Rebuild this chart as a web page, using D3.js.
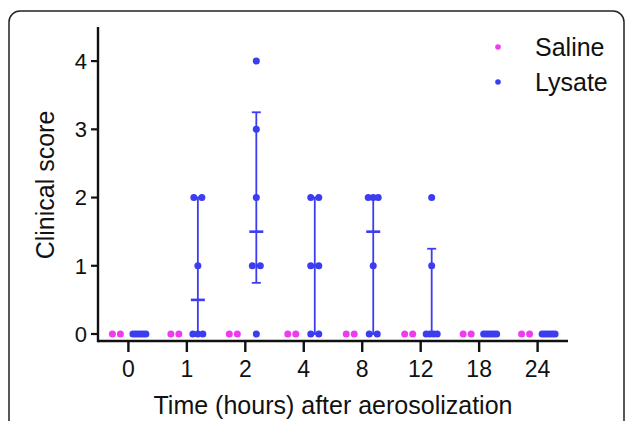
<!DOCTYPE html>
<html>
<head>
<meta charset="utf-8">
<script src="https://cdn.jsdelivr.net/npm/d3@7"></script>
<style>
  body { margin: 0; background: #fff; }
  svg { display: block; font-family: "Liberation Sans", Arial, sans-serif; }
</style>
</head>
<body>
<div class="vis-scatter"></div>
<script>
// time points (hours after aerosolization)
const times = ["0", "1", "2", "4", "8", "12", "18", "24"];
// clinical score per animal at each time point
const saline = [[0, 0], [0, 0], [0, 0], [0, 0], [0, 0], [0, 0], [0, 0], [0, 0]];
const lysate = [
  [0, 0, 0, 0, 0, 0],
  [0, 0, 0, 1, 2, 2],
  [0, 1, 1, 2, 3, 4],
  [0, 0, 1, 1, 2, 2],
  [0, 0, 1, 2, 2, 2],
  [0, 0, 0, 0, 1, 2],
  [0, 0, 0, 0, 0, 0],
  [0, 0, 0, 0, 0, 0]
];
const yTicks = [0, 1, 2, 3, 4];
const groups = ["Saline", "Lysate"];

const pink = "#f03af0", blue = "#3c3cf0";

const W = 627, H = 421;
const svg = d3.select(".vis-scatter").append("svg").attr("width", W).attr("height", H);

// outer frame
svg.append("rect")
  .attr("x", 9).attr("y", 11)
  .attr("width", 615).attr("height", 440)
  .attr("rx", 11)
  .attr("fill", "none").attr("stroke", "#222").attr("stroke-width", 1.5);

let x = d3.scalePoint().domain(times).range([98, 568]).padding(0.52);
let y = d3.scaleLinear().domain([0, 4.5]).range([334, 27]);
const axisY0 = 341;

// quartiles, GraphPad style
function quant(arr, p) {
  const s = arr.slice().sort(d3.ascending);
  const pos = p * (s.length + 1) - 1;
  const lo = Math.max(0, Math.min(s.length - 1, Math.floor(pos)));
  const hi = Math.min(s.length - 1, lo + 1);
  return s[lo] + (pos - lo) * (s[hi] - s[lo]);
}

// spread dots that share a value
function spread(vals) {
  const out = [];
  d3.group(vals.map((v, i) => ({ v, i })), d => d.v).forEach(list => {
    const k = list.length;
    const w = k <= 1 ? 0 : Math.min(8 * (k - 1), 7 + k);
    list.forEach((d, j) => out.push({ v: d.v, dx: k <= 1 ? 0 : -w / 2 + j * w / (k - 1) }));
  });
  return out;
}

const offS = -12, offL = 11;

// y axis
const gy = svg.append("g").attr("transform", "translate(98,0)");
gy.append("line").attr("y1", 27).attr("y2", axisY0 + 1.2).attr("stroke", "#111").attr("stroke-width", 2.4);
gy.selectAll(".t").data(yTicks).enter().append("line")
  .attr("x1", -7).attr("x2", 0)
  .attr("y1", d => y(d)).attr("y2", d => y(d))
  .attr("stroke", "#111").attr("stroke-width", 2.2);
gy.selectAll(".lab").data(yTicks).enter().append("text")
  .attr("x", -11).attr("y", d => y(d)).attr("dy", "0.36em")
  .attr("text-anchor", "end").attr("font-size", 22).attr("fill", "#111")
  .text(d => d);

// x axis
const gx = svg.append("g");
gx.append("line").attr("x1", 98).attr("x2", 568).attr("y1", axisY0).attr("y2", axisY0)
  .attr("stroke", "#111").attr("stroke-width", 2.4);
gx.selectAll(".t").data(times).enter().append("line")
  .attr("x1", d => x(d)).attr("x2", d => x(d))
  .attr("y1", axisY0).attr("y2", axisY0 + 11)
  .attr("stroke", "#111").attr("stroke-width", 2.4);
gx.selectAll(".lab").data(times).enter().append("text")
  .attr("x", d => x(d)).attr("y", 377)
  .attr("text-anchor", "middle").attr("font-size", 23).attr("fill", "#111")
  .text(d => d);

// axis titles
svg.append("text")
  .attr("x", 333).attr("y", 414)
  .attr("text-anchor", "middle").attr("font-size", 25).attr("fill", "#111")
  .text("Time (hours) after aerosolization");
svg.append("text")
  .attr("transform", "translate(54,185) rotate(-90)")
  .attr("text-anchor", "middle").attr("font-size", 25).attr("fill", "#111")
  .text("Clinical score");

// median + interquartile range for lysate
const stats = lysate.map((vals, i) => ({
  t: times[i], med: quant(vals, 0.5), q1: quant(vals, 0.25), q3: quant(vals, 0.75)
}));
const eb = svg.append("g");
stats.forEach(s => {
  const cx = x(s.t) + offL;
  if (s.q3 > s.q1) {
    eb.append("line").attr("x1", cx).attr("x2", cx).attr("y1", y(s.q1)).attr("y2", y(s.q3))
      .attr("stroke", blue).attr("stroke-width", 1.8);
    [s.q1, s.q3].forEach(q => {
      eb.append("line").attr("x1", cx - 4.5).attr("x2", cx + 4.5).attr("y1", y(q)).attr("y2", y(q))
        .attr("stroke", blue).attr("stroke-width", 1.8);
    });
  }
  eb.append("line").attr("x1", cx - 7).attr("x2", cx + 7).attr("y1", y(s.med)).attr("y2", y(s.med))
    .attr("stroke", blue).attr("stroke-width", 2.6);
});

// dots
function drawDots(data, off, color) {
  data.forEach((vals, i) => {
    svg.append("g").selectAll("circle").data(spread(vals)).enter().append("circle")
      .attr("cx", d => x(times[i]) + off + d.dx)
      .attr("cy", d => y(d.v))
      .attr("r", 3.5)
      .attr("fill", color);
  });
}
drawDots(saline, offS, pink);
drawDots(lysate, offL, blue);

// legend
const lg = svg.append("g");
lg.selectAll("circle").data(groups).enter().append("circle")
  .attr("cx", 498).attr("cy", (d, i) => 47 + i * 35)
  .attr("r", 2.8).attr("fill", (d, i) => i === 0 ? pink : blue);
lg.selectAll("text").data(groups).enter().append("text")
  .attr("x", 535).attr("y", (d, i) => 47 + i * 35).attr("dy", "0.36em")
  .attr("font-size", 25).attr("fill", "#111")
  .text(d => d);
</script>
</body>
</html>
